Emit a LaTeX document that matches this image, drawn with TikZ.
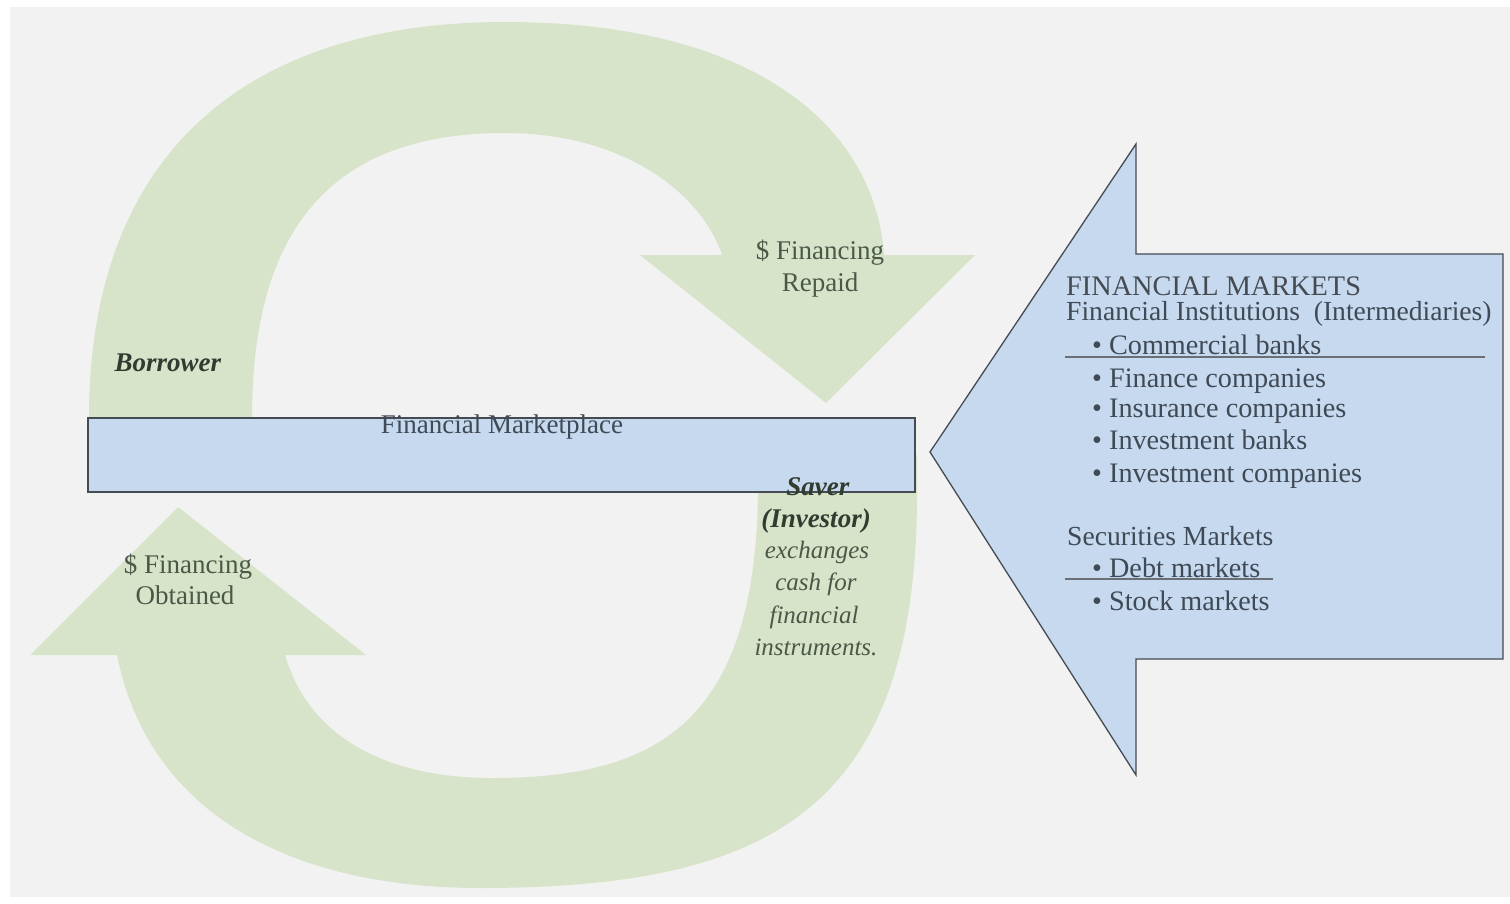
\documentclass[tikz,border=0pt]{standalone}
\usepackage{fontspec}
\setmainfont{Liberation Serif}
\definecolor{bgc}{HTML}{F2F2F2}
\definecolor{flowc}{HTML}{D8E4CA}
\definecolor{bluec}{HTML}{C6D9EE}
\definecolor{edgec}{HTML}{454B52}
\definecolor{greentext}{HTML}{4B5847}
\definecolor{darkgreen}{HTML}{323B30}
\definecolor{bluetext}{HTML}{3F4A56}
\begin{document}
\begin{tikzpicture}[x=1pt,y=-1pt,
  flow/.style={fill=flowc},
  market/.style={fill=bluec,draw=edgec,line width=1.6pt},
  lbl/.style={inner sep=0pt,anchor=base,font=\fontsize{27}{32}\selectfont},
  greenlbl/.style={lbl,text=greentext},
  bluelbl/.style={lbl,anchor=base west,text=bluetext,font=\fontsize{27.6}{32}\selectfont},
  itemlbl/.style={bluelbl,font=\fontsize{28.2}{32}\selectfont},
  uline/.style={draw=edgec!80,line width=1.2pt}]
\useasboundingbox (0,0) rectangle (1510,903);
\fill[white] (0,0) rectangle (1510,903);
\fill[bgc] (10,7) rectangle (1510,897);

% upper U-turn arrow: rises from the marketplace bar and points down to the right
\fill[flow] (89,455) -- (89,418)
  .. controls (89,150) and (250,22) .. (505,22)
  .. controls (760,22) and (875,130) .. (884,255)
  -- (975,255) -- (826,403) -- (640,255) -- (722,255)
  .. controls (700,190) and (620,133) .. (505,133)
  .. controls (330,133) and (252,230) .. (252,418)
  -- (252,455) -- cycle;

% lower U-turn arrow: leaves the bar on the right and points up on the left
\fill[flow] (917,455) -- (917,493)
  .. controls (917,810) and (770,888) .. (480,888)
  .. controls (300,888) and (150,820) .. (117,655)
  -- (30,655) -- (178,507) -- (366,655) -- (285,655)
  .. controls (310,740) and (390,778) .. (492,778)
  .. controls (660,778) and (755,720) .. (758,493)
  -- (758,455) -- cycle;

% the marketplace bar
\node[market,minimum width=827pt,minimum height=74pt,inner sep=0pt] (place) at (501.5,455) {};
\node[lbl,text=bluetext] (placetxt) at (502,433) {Financial Marketplace};

% big arrow of the financial markets
\draw[market,line width=1.3pt,line join=miter]
  (930,452) -- (1136,144) -- (1136,254) -- (1503,254) -- (1503,659)
  -- (1136,659) -- (1136,775) -- cycle;

% labels on the flows
\node[greenlbl] (repaid1) at (820,259) {\$ Financing};
\node[greenlbl] (repaid2) at (820,291) {Repaid};
\node[greenlbl] (obt1) at (188,573) {\$ Financing};
\node[greenlbl] (obt2) at (185,604) {Obtained};
\node[lbl,text=darkgreen] (borrower) at (168,371) {\textbf{\textit{Borrower}}};

\node[lbl,text=darkgreen] (saver) at (818,495) {\textbf{\textit{Saver}}};
\node[lbl,text=darkgreen] (investor) at (816,527) {\textbf{\textit{(Investor)}}};
\node[greenlbl,font=\fontsize{25}{32}\selectfont\itshape] (ex1) at (817,558) {exchanges};
\node[greenlbl,font=\fontsize{25}{32}\selectfont\itshape] (ex2) at (816,590) {cash for};
\node[greenlbl,font=\fontsize{25}{32}\selectfont\itshape] (ex3) at (814,623) {financial};
\node[greenlbl,font=\fontsize{25}{32}\selectfont\itshape] (ex4) at (816,655) {instruments.};

% contents of the financial markets arrow
\node[bluelbl,font=\fontsize{28.3}{32}\selectfont,text=edgec] (fm) at (1066,295) {FINANCIAL MARKETS};
\node[bluelbl] (fi) at (1066,320) {Financial Institutions\ \ (Intermediaries)};
\node[itemlbl] (b1) at (1092,354) {•\ Commercial banks};
\node[itemlbl] (b2) at (1092,387) {•\ Finance companies};
\node[itemlbl] (b3) at (1092,417) {•\ Insurance companies};
\node[itemlbl] (b4) at (1092,449) {•\ Investment banks};
\node[itemlbl] (b5) at (1092,482) {•\ Investment companies};
\node[bluelbl] (sm) at (1067,545) {Securities Markets};
\node[itemlbl] (d1) at (1092,577) {•\ Debt markets};
\node[itemlbl] (d2) at (1092,610) {•\ Stock markets};
\draw[uline] (1065,357) -- (1485,357);
\draw[uline] (1065,579) -- (1273,579);
\end{tikzpicture}
\end{document}
